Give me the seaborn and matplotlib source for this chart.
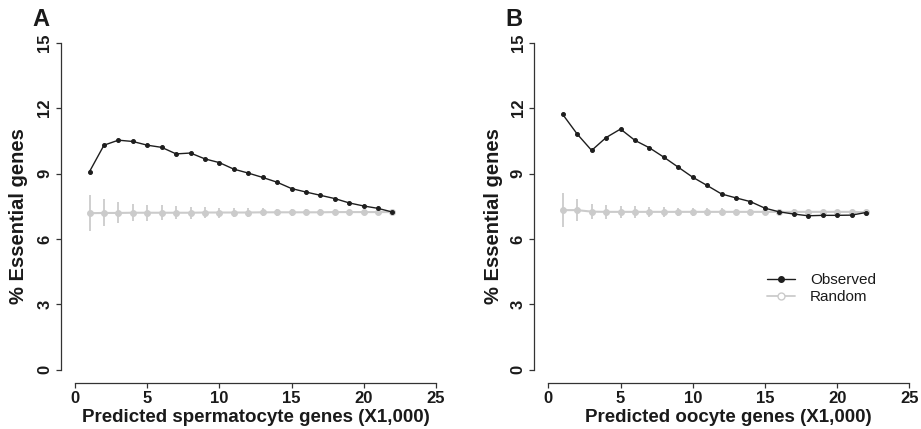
import numpy as np
import pandas as pd
import matplotlib
matplotlib.use("Agg")
import matplotlib.pyplot as plt
from matplotlib.lines import Line2D
import seaborn as sns

# ---------------- data ----------------
gene_counts = list(range(1, 23))  # predicted genes (x1,000)

sperm_observed = [9.09, 10.30, 10.53, 10.47, 10.30, 10.20, 9.90, 9.94, 9.67, 9.50,
                  9.20, 9.02, 8.82, 8.60, 8.31, 8.15, 8.00, 7.85, 7.65, 7.51, 7.40, 7.23]
sperm_random = [7.18, 7.19, 7.19, 7.20, 7.20, 7.20, 7.20, 7.20, 7.21, 7.21,
                7.21, 7.21, 7.22, 7.22, 7.22, 7.22, 7.22, 7.23, 7.23, 7.23, 7.23, 7.23]
sperm_random_err = [0.84, 0.62, 0.48, 0.40, 0.37, 0.34, 0.30, 0.28, 0.25, 0.23,
                    0.20, 0.19, 0.18, 0.17, 0.15, 0.14, 0.13, 0.12, 0.10, 0.08, 0.05, 0.0]

oocyte_observed = [11.71, 10.81, 10.06, 10.65, 11.04, 10.52, 10.18, 9.75, 9.29, 8.83,
                   8.45, 8.06, 7.88, 7.71, 7.41, 7.24, 7.14, 7.06, 7.08, 7.08, 7.09, 7.21]
oocyte_random = [7.32, 7.32, 7.25, 7.24, 7.24, 7.24, 7.24, 7.24, 7.24, 7.24,
                 7.24, 7.24, 7.24, 7.24, 7.24, 7.24, 7.24, 7.24, 7.24, 7.24, 7.24, 7.22]
oocyte_random_err = [0.77, 0.52, 0.36, 0.32, 0.28, 0.26, 0.24, 0.22, 0.20, 0.19,
                     0.17, 0.16, 0.15, 0.14, 0.13, 0.12, 0.11, 0.10, 0.09, 0.07, 0.05, 0.0]

panel_letters = ["A", "B"]
x_labels = ["Predicted spermatocyte genes (X1,000)", "Predicted oocyte genes (X1,000)"]
y_label = "% Essential genes"
legend_labels = ["Observed", "Random"]
x_ticks = [0, 5, 10, 15, 20, 25]
y_ticks = [0, 3, 6, 9, 12, 15]

# ---------------- style ----------------
sns.set_theme(style="ticks")
plt.rcParams["font.family"] = ["Liberation Sans", "DejaVu Sans"]

W, H = 921, 429
fig = plt.figure(figsize=(W / 100, H / 100), dpi=100)

OBS_COLOR = "#1e1e1e"
RND_COLOR = "#cbcbcb"
TXT_COLOR = "#1a1a1a"


def fx(px):
    return px / W


def fy(py):
    return 1 - py / H


# axes rectangles in pixels: (left, top, right, bottom) of plot region
rects = [(60.7, 29.7, 450.2, 382.7), (533.9, 29.7, 923.7, 382.7)]
datasets = [
    (sperm_observed, sperm_random, sperm_random_err),
    (oocyte_observed, oocyte_random, oocyte_random_err),
]
ylabel_x = [19.0, 493.0]
letter_pos = [(40.5, 19.5), (514.0, 19.5)]

for i, ((l, t, r, b), (obs, rnd, err)) in enumerate(zip(rects, datasets)):
    ax = fig.add_axes([fx(l), fy(b), (r - l) / W, (b - t) / H])
    df = pd.DataFrame({
        "genes": gene_counts * 2,
        "pct": obs + rnd,
        "kind": ["Observed"] * len(obs) + ["Random"] * len(rnd),
    })
    # error bars for random
    ax.vlines(gene_counts, np.array(rnd) - np.array(err), np.array(rnd) + np.array(err),
              color=RND_COLOR, lw=1.3, zorder=1)
    sns.lineplot(data=df[df.kind == "Random"], x="genes", y="pct", ax=ax,
                 color=RND_COLOR, lw=1.5, marker="o", markersize=4.2,
                 markerfacecolor=RND_COLOR, markeredgecolor=RND_COLOR,
                 zorder=2, legend=False)
    sns.lineplot(data=df[df.kind == "Observed"], x="genes", y="pct", ax=ax,
                 color=OBS_COLOR, lw=1.0, marker="o", markersize=2.8,
                 markerfacecolor=OBS_COLOR, markeredgecolor=OBS_COLOR,
                 zorder=3, legend=False)

    ax.set_xlim(-1, 26)
    ax.set_ylim(-0.6, 15.6)
    ax.set_xticks(x_ticks)
    ax.set_yticks(y_ticks)
    ax.set_xticklabels([str(v) for v in x_ticks], fontweight="bold", fontsize=12)
    ax.set_yticklabels([str(v) for v in y_ticks], fontweight="bold", fontsize=12,
                       rotation=90, va="center")
    for s in ["top", "right"]:
        ax.spines[s].set_visible(False)
    ax.spines["left"].set_bounds(0, 15)
    ax.spines["bottom"].set_bounds(0, 25)
    for s in ["left", "bottom"]:
        ax.spines[s].set_color("#333333")
        ax.spines[s].set_linewidth(0.9)
    ax.tick_params(axis="both", length=3.5, width=0.9, color="#333333",
                   labelcolor=TXT_COLOR)
    ax.tick_params(axis="x", pad=2.5)
    ax.tick_params(axis="y", pad=2.5)
    ax.set_facecolor("white")

    ax.set_xlabel(x_labels[i], fontweight="bold", fontsize=13.5, color=TXT_COLOR)
    ax.xaxis.set_label_coords(0.5, (fy(417.0) - fy(b)) / ((b - t) / H))
    ax.xaxis.label.set_va("center")
    ax.set_ylabel(y_label, fontweight="bold", fontsize=14.5, color=TXT_COLOR)
    ax.yaxis.set_label_coords((ylabel_x[i] - l) / (r - l), (b - 216.0) / (b - t))
    ax.yaxis.label.set_va("center")
    ax.yaxis.label.set_ha("center")
    ax.yaxis.label.set_rotation_mode("default")

    fig.text(fx(letter_pos[i][0]), fy(letter_pos[i][1]), panel_letters[i],
             fontweight="bold", fontsize=17, ha="center", va="center", color=TXT_COLOR)

    if i == 1:
        handles = [
            Line2D([], [], color=OBS_COLOR, lw=1.0, marker="o", markersize=4,
                   markerfacecolor=OBS_COLOR, markeredgecolor=OBS_COLOR),
            Line2D([], [], color=RND_COLOR, lw=1.3, marker="o", markersize=5,
                   markerfacecolor="white", markeredgecolor=RND_COLOR),
        ]
        fig.legend(handles, legend_labels, loc="upper left",
                   bbox_to_anchor=(fx(767), fy(273)), frameon=False,
                   fontsize=11, borderpad=0, borderaxespad=0, handlelength=1.8,
                   handletextpad=1.0, labelspacing=0.2, labelcolor=TXT_COLOR)

fig.savefig("out.png", dpi=100, facecolor="white")
